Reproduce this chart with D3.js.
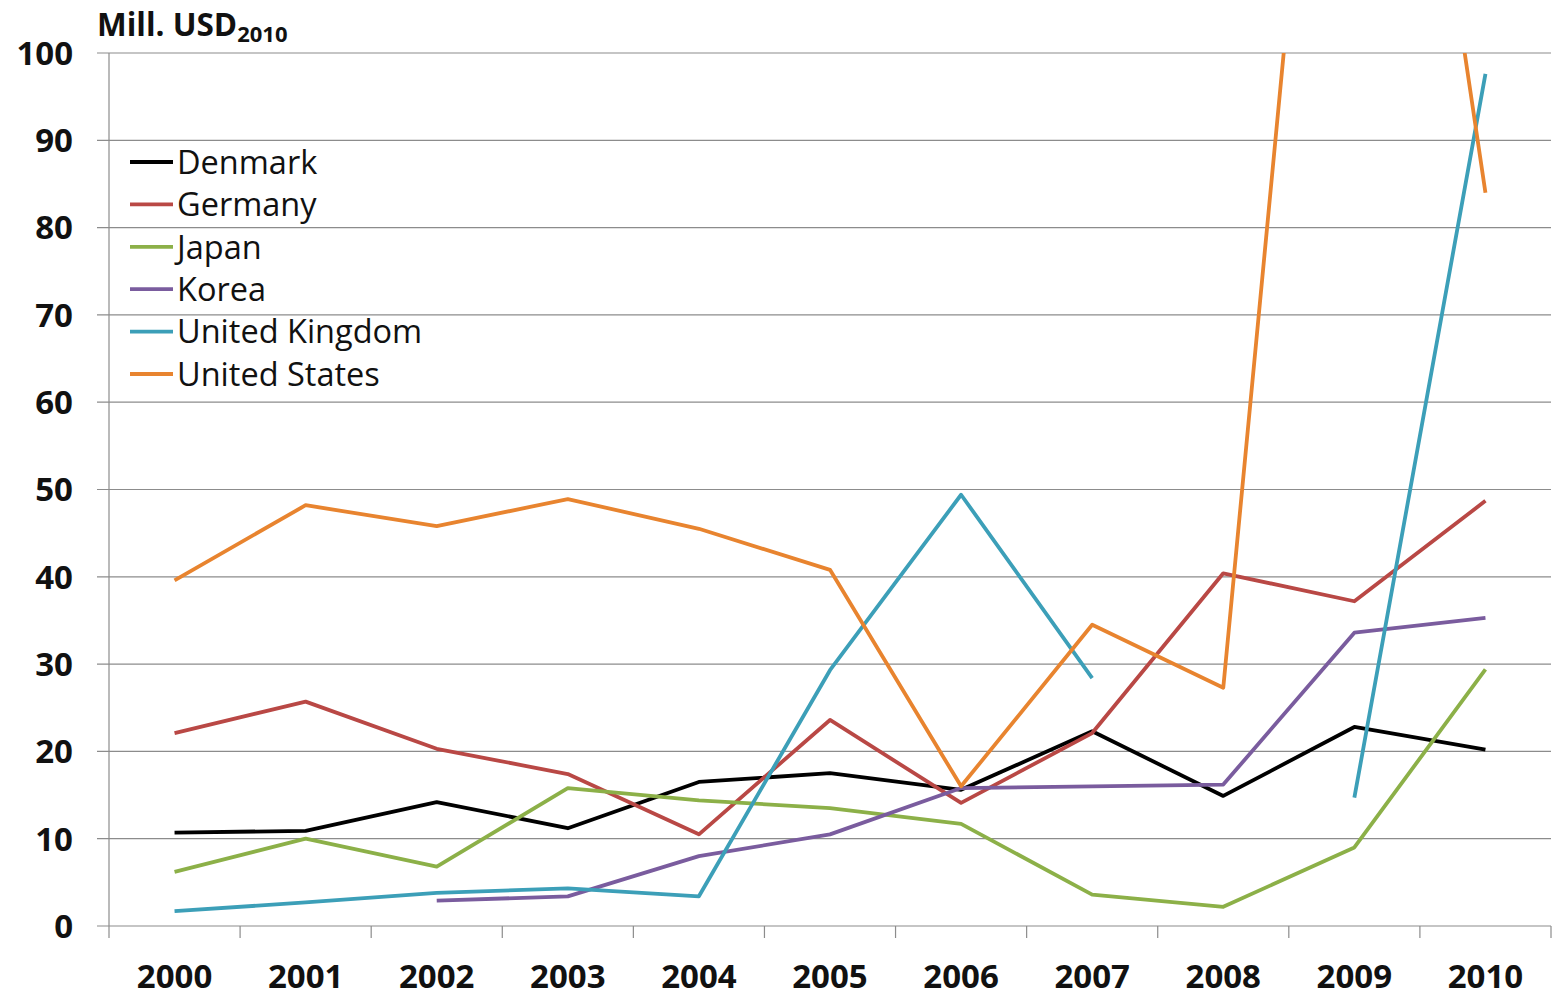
<!DOCTYPE html>
<html><head><meta charset="utf-8">
<script src="https://cdn.jsdelivr.net/npm/d3@7"></script>
<style>body{margin:0;background:#fff}svg{display:block}</style>
</head><body><svg id="c" width="1555" height="998"></svg>
<script>
const years = ["2000","2001","2002","2003","2004","2005","2006","2007","2008","2009","2010"];
const yTicks = [0,10,20,30,40,50,60,70,80,90,100];
const seriesNames = ["Denmark","Germany","Japan","Korea","United Kingdom","United States"];
const denmark = [10.7,10.9,14.2,11.2,16.5,17.5,15.6,22.3,14.9,22.8,20.2];
const germany = [22.1,25.7,20.3,17.4,10.5,23.6,14.1,22.1,40.4,37.2,48.7];
const japan   = [6.2,10.0,6.8,15.8,14.4,13.5,11.7,3.6,2.2,9.0,29.4];
const korea   = [null,null,2.9,3.4,8.0,10.5,15.8,16.0,16.2,33.6,35.3];
const uk      = [1.7,2.7,3.8,4.3,3.4,29.3,49.4,28.4,null,14.7,97.6];
const us      = [39.6,48.2,45.8,48.9,45.5,40.8,16.0,34.5,27.3,185,84.0];
const seriesValues = [denmark,germany,japan,korea,uk,us];
const colors = ["#000000","#B94845","#8CB048","#7A5C9E","#3C9FB8","#E8842F"];

const svg = d3.select("#c");
const L = 109, R = 1551, T = 53, B = 926;
const x = d3.scaleBand().domain(years).range([L, R]);
const y = d3.scaleLinear().domain([0,100]).range([B, T]);
const font = "'Open Sans', 'Liberation Sans', sans-serif";

// gridlines
svg.append("g").selectAll("line").data(yTicks).join("line")
  .attr("x1", L-12).attr("x2", R).attr("y1", d=>y(d)).attr("y2", d=>y(d))
  .attr("stroke", "#8c8c8c").attr("stroke-width", 1.2);
// left axis line
svg.append("line").attr("x1", L).attr("x2", L).attr("y1", T).attr("y2", B)
  .attr("stroke", "#8c8c8c").attr("stroke-width", 1.2);
// x ticks
const xt = years.map(d=>x(d)).concat([R]);
svg.append("g").selectAll("line").data(xt).join("line")
  .attr("x1", d=>d).attr("x2", d=>d).attr("y1", B).attr("y2", B+12)
  .attr("stroke", "#8c8c8c").attr("stroke-width", 1.2);

// y labels
svg.append("g").selectAll("text").data(yTicks).join("text")
  .attr("x", 73).attr("y", d=>y(d)).attr("dy", "0.36em")
  .attr("text-anchor", "end").attr("font-family", font).attr("font-weight", "bold")
  .attr("font-size", 33).attr("fill", "#111").text(d=>d);
// x labels
svg.append("g").selectAll("text").data(years).join("text")
  .attr("x", d=>x(d)+x.bandwidth()/2).attr("y", 988)
  .attr("text-anchor", "middle").attr("font-family", font).attr("font-weight", "bold")
  .attr("font-size", 33).attr("fill", "#111").text(d=>d);

// title
const t = svg.append("text").attr("x", 97).attr("y", 36).attr("font-family", font)
  .attr("font-weight", "bold").attr("font-size", 31.5).attr("fill", "#111");
t.append("tspan").text("Mill. USD");
t.append("tspan").attr("font-size", 22).attr("dy", 6).text("2010");

// clip
svg.append("clipPath").attr("id", "clip").append("rect")
  .attr("x", L).attr("y", T).attr("width", R-L).attr("height", B-T);

const line = d3.line()
  .defined(d=>d.v!==null)
  .x(d=>x(d.year)+x.bandwidth()/2).y(d=>y(d.v));

const g = svg.append("g").attr("clip-path", "url(#clip)");
seriesValues.forEach((vals,i)=>{
  g.append("path").datum(years.map((yr,j)=>({year:yr, v:vals[j]})))
    .attr("d", line).attr("fill","none").attr("stroke", colors[i])
    .attr("stroke-width", 3.8).attr("stroke-linejoin","round");
});

// legend
const lg = svg.append("g");
seriesNames.forEach((n,i)=>{
  const yy = 162 + i*42.4;
  lg.append("line").attr("x1",130).attr("x2",173).attr("y1",yy).attr("y2",yy)
    .attr("stroke", colors[i]).attr("stroke-width", 3.8);
  lg.append("text").attr("x",177).attr("y",yy).attr("dy","0.36em")
    .attr("font-family", font).attr("font-size", 32.5).attr("fill","#111").text(n);
});
</script></body></html>
